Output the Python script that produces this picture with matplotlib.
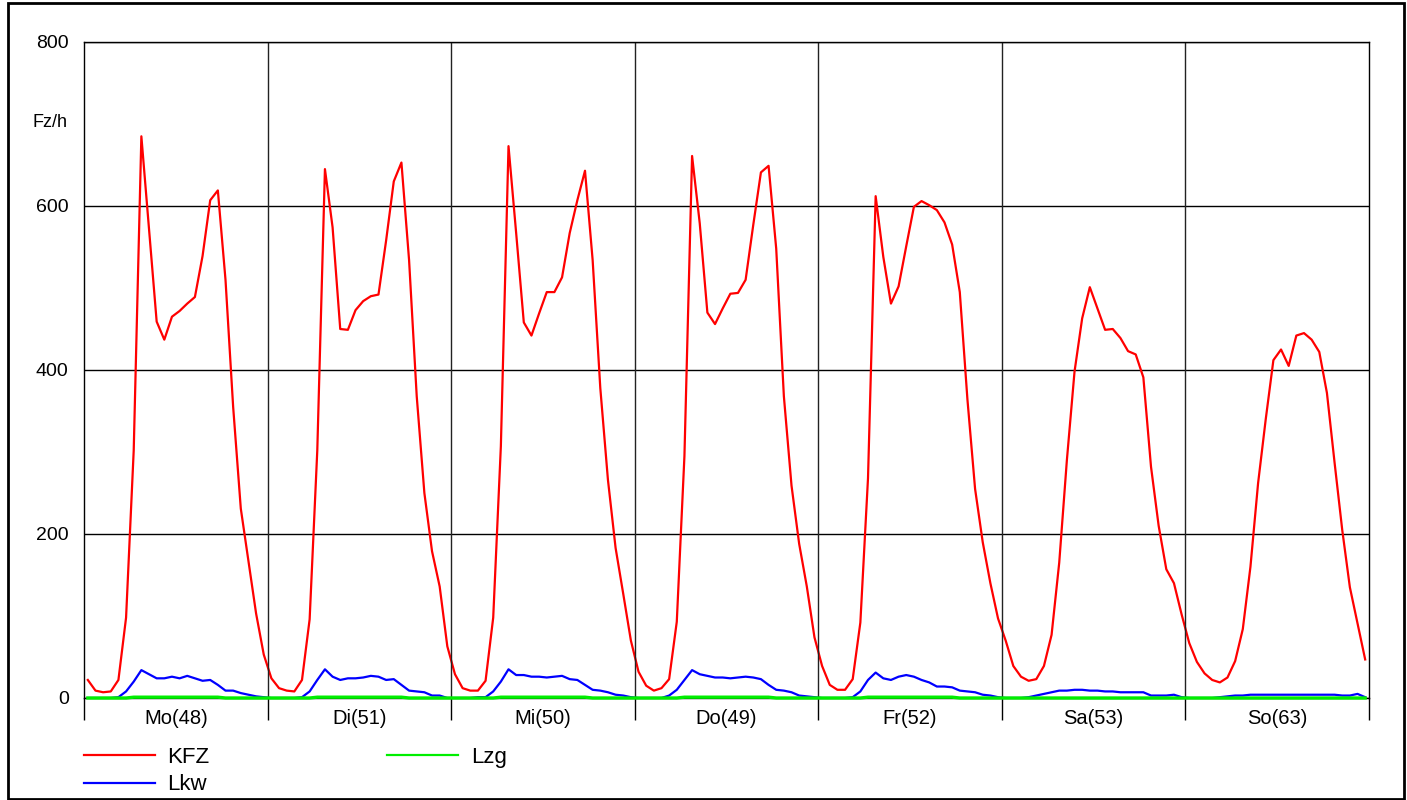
import numpy as np
import matplotlib
matplotlib.use("Agg")
from matplotlib import pyplot as plt
from matplotlib.patches import Rectangle

plt.rcParams['font.family'] = ['Liberation Sans', 'DejaVu Sans']

# Stundenwerte je Tag (0..23 Uhr)
tage = ['Mo(48)', 'Di(51)', 'Mi(50)', 'Do(49)', 'Fr(52)', 'Sa(53)', 'So(63)']

kfz_mo = [22, 9, 7, 8, 22, 98, 302, 685, 572, 459, 437, 465, 472, 481, 489, 539, 607, 619, 510, 355, 231, 167, 103, 53]
kfz_di = [24, 12, 9, 8, 22, 96, 302, 645, 574, 450, 449, 473, 484, 490, 492, 558, 630, 653, 534, 368, 250, 179, 136, 63]
kfz_mi = [29, 12, 9, 9, 21, 98, 307, 673, 567, 458, 442, 469, 495, 495, 513, 567, 607, 643, 534, 378, 266, 183, 127, 70]
kfz_do = [32, 15, 9, 12, 23, 93, 295, 661, 579, 470, 456, 475, 493, 494, 510, 577, 641, 649, 548, 368, 259, 188, 136, 74]
kfz_fr = [39, 16, 10, 10, 23, 92, 268, 612, 538, 481, 502, 551, 599, 606, 601, 595, 580, 553, 495, 364, 255, 190, 140, 97]
kfz_sa = [70, 39, 26, 21, 23, 39, 77, 165, 290, 398, 463, 501, 475, 449, 450, 439, 423, 419, 391, 282, 210, 157, 140, 102]
kfz_so = [67, 44, 30, 22, 19, 25, 45, 84, 160, 262, 340, 412, 425, 405, 442, 445, 437, 422, 372, 287, 205, 135, 91, 47]

lkw_mo = [0, 0, 0, 0, 1, 8, 20, 34, 29, 24, 24, 26, 24, 27, 24, 21, 22, 16, 9, 9, 6, 4, 2, 1]
lkw_di = [0, 0, 0, 0, 1, 8, 22, 35, 26, 22, 24, 24, 25, 27, 26, 22, 23, 16, 9, 8, 7, 3, 3, 0]
lkw_mi = [0, 0, 0, 1, 1, 8, 20, 35, 28, 28, 26, 26, 25, 26, 27, 23, 22, 16, 10, 9, 7, 4, 3, 1]
lkw_do = [0, 0, 0, 0, 3, 10, 22, 34, 29, 27, 25, 25, 24, 25, 26, 25, 23, 16, 10, 9, 7, 3, 2, 1]
lkw_fr = [0, 0, 0, 0, 1, 8, 22, 31, 24, 22, 26, 28, 26, 22, 19, 14, 14, 13, 9, 8, 7, 4, 3, 1]
lkw_sa = [0, 0, 0, 1, 3, 5, 7, 9, 9, 10, 10, 9, 9, 8, 8, 7, 7, 7, 7, 3, 3, 3, 4, 1]
lkw_so = [0, 0, 0, 0, 1, 2, 3, 3, 4, 4, 4, 4, 4, 4, 4, 4, 4, 4, 4, 4, 3, 3, 5, 1]

lzg_wt = [0, 0, 0, 0, 0, 0, 1, 1, 1, 1, 1, 1, 1, 1, 1, 1, 1, 1, 0, 0, 0, 0, 0, 0]
lzg_we = [0] * 24

kfz = np.array(kfz_mo + kfz_di + kfz_mi + kfz_do + kfz_fr + kfz_sa + kfz_so)
lkw = np.array(lkw_mo + lkw_di + lkw_mi + lkw_do + lkw_fr + lkw_sa + lkw_so)
lzg = np.array(lzg_wt * 5 + lzg_we * 2)

x = np.arange(len(kfz)) + 0.5

fig = plt.figure(figsize=(14.07, 8), dpi=100)
ax = fig.add_axes([84 / 1407, 102 / 800, 1285 / 1407, 656 / 800])

# Rahmen um die ganze Grafik
fig.patches.append(Rectangle((8 / 1407, 0.001), 1396 / 1407, 0.995, transform=fig.transFigure,
                             fill=False, edgecolor='black', linewidth=2))

ax.plot(x, kfz, color='#ff0000', linewidth=1.6, label='KFZ')
ax.plot(x, lkw, color='#0000ff', linewidth=1.6, label='Lkw')
ax.plot(x, lzg, color='#00ee00', linewidth=2.4, label='Lzg', clip_on=False, zorder=3)

ax.set_xlim(0, 168)
ax.set_ylim(0, 800)

# Tagesgrenzen und Beschriftung
ax.set_xticks(np.arange(0, 169, 24))
ax.set_xticklabels([])
ax.set_xticks(np.arange(12, 168, 24), minor=True)
ax.set_xticklabels(tage, minor=True, fontsize=14.5)
ax.tick_params(axis='x', which='major', length=16, width=1, color='black', direction='out')
ax.tick_params(axis='x', which='minor', length=0, pad=8)
for d in range(1, 7):
    ax.axvline(d * 24, color='#222222', linewidth=1)

ax.set_yticks([0, 200, 400, 600, 800])
ax.set_yticklabels(['0', '200', '400', '600', '800'], fontsize=14)
ax.tick_params(axis='y', length=0, pad=11)
ax.yaxis.grid(True, color='black', linewidth=1)
ax.set_axisbelow(True)
ax.text(-0.0125, 702, 'Fz/h', transform=ax.get_yaxis_transform(), ha='right', va='center', fontsize=13)

for s in ax.spines.values():
    s.set_linewidth(1)

leg = ax.legend(loc='upper left', bbox_to_anchor=(0.0, -0.075), ncol=2, frameon=False,
                fontsize=16, handlelength=3.2, handletextpad=0.55, columnspacing=8.0,
                labelspacing=0.28, borderaxespad=0, borderpad=0)
for line in leg.get_lines():
    line.set_linewidth(1.6)

fig.savefig('out.png', dpi=100)
